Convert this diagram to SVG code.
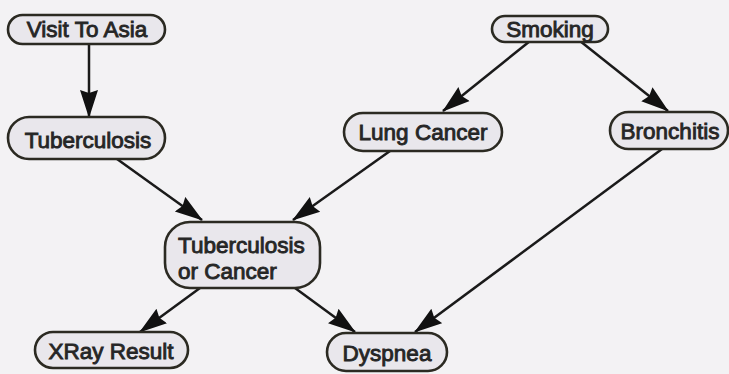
<svg xmlns="http://www.w3.org/2000/svg" width="729" height="374" viewBox="0 0 729 374">
<defs>
<marker id="ah" markerUnits="userSpaceOnUse" markerWidth="28" markerHeight="20" refX="27" refY="10" orient="auto">
<path d="M0,1 L28,10 L0,19 L3,10 Z" fill="#111"/>
</marker>
<style>
.n rect{fill:#e9e7ec;stroke:#2b2a22;stroke-width:2.6}
.n text{font-family:"Liberation Sans",Arial,sans-serif;font-size:22.5px;fill:#262626;stroke:#262626;stroke-width:0.9;text-anchor:middle;dominant-baseline:central}
.n text.l{text-anchor:start}
.e line{stroke:#1a1a1a;stroke-width:2.5;marker-end:url(#ah)}
</style>
</defs>
<rect width="729" height="374" fill="#f3f2f4"/>
<g id="edges" class="e">
<line x1="89" y1="43" x2="89" y2="117"/>
<line x1="530" y1="41" x2="443" y2="111"/>
<line x1="580" y1="41" x2="668" y2="111"/>
<line x1="117" y1="159" x2="202" y2="220"/>
<line x1="390" y1="151" x2="293" y2="220"/>
<line x1="200" y1="288" x2="140" y2="332"/>
<line x1="295" y1="288" x2="355" y2="332"/>
<line x1="662" y1="149" x2="415" y2="332"/>
</g>
<g id="visit" class="n"><rect x="8" y="15" width="157" height="29" rx="14.5"/><text x="87" y="29">Visit To Asia</text></g>
<g id="smoking" class="n"><rect x="492" y="16" width="116" height="26" rx="13"/><text x="550" y="29">Smoking</text></g>
<g id="tuberculosis" class="n"><rect x="8" y="117" width="157" height="42" rx="21"/><text x="88" y="140">Tuberculosis</text></g>
<g id="lungcancer" class="n"><rect x="344" y="113" width="158" height="38" rx="19"/><text x="423" y="132">Lung Cancer</text></g>
<g id="bronchitis" class="n"><rect x="610" y="112" width="118" height="37" rx="18.5"/><text x="670" y="131">Bronchitis</text></g>
<g id="torc" class="n"><rect x="165" y="222" width="155" height="66" rx="25"/><text class="l" x="178" y="245">Tuberculosis</text><text class="l" x="178" y="271">or Cancer</text></g>
<g id="xray" class="n"><rect x="35" y="332" width="153" height="36" rx="18"/><text x="111" y="351">XRay Result</text></g>
<g id="dyspnea" class="n"><rect x="327" y="333" width="120" height="38" rx="19"/><text x="387" y="353">Dyspnea</text></g>
</svg>
